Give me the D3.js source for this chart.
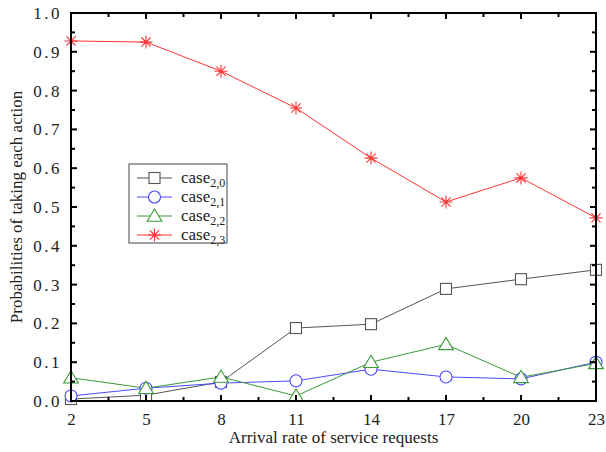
<!DOCTYPE html>
<html><head><meta charset="utf-8">
<script src="https://cdn.jsdelivr.net/npm/d3@7"></script>
<style>svg text, svg tspan{font-family:'Liberation Serif' !important;}</style>
</head><body style="margin:0"><svg id="c" width="606" height="452"></svg>
<script>
const xCats = [2,5,8,11,14,17,20,23];
const case20 = [0.005,0.015,0.049,0.188,0.198,0.289,0.314,0.338];
const case21 = [0.013,0.033,0.046,0.052,0.082,0.062,0.057,0.100];
const case22 = [0.060,0.033,0.062,0.013,0.100,0.146,0.061,0.097];
const case23 = [0.928,0.925,0.850,0.755,0.626,0.513,0.575,0.472];
const yTicks = [0,0.1,0.2,0.3,0.4,0.5,0.6,0.7,0.8,0.9,1.0];
const seriesNames = ["0","1","2","3"];
const seriesColors = ["#555555","#4a4aff","#3a9a3a","#ff3333"];
const seriesSymbols = ["square","circle","triangle","star"];

const svg = d3.select("#c");
const L=71,R=596,T=13,B=401;
const x = d3.scaleLinear().domain([2,23]).range([L,R]);
const y = d3.scaleLinear().domain([0,1]).range([B,T]);
const series = [case20,case21,case22,case23];

function txt(sel, size){
  return sel.style("font-family","Times New Roman").style("font-size",size+"px").attr("fill","#222");
}

function drawMarker(g, type, cx, cy, color){
  if(type==="square"){
    g.append("rect").attr("x",cx-5.5).attr("y",cy-5.5).attr("width",11).attr("height",11)
     .attr("fill","#fff").attr("stroke",color).attr("stroke-width",1.1);
  } else if(type==="circle"){
    g.append("circle").attr("cx",cx).attr("cy",cy).attr("r",6)
     .attr("fill","#fff").attr("stroke",color).attr("stroke-width",1.1);
  } else if(type==="triangle"){
    const s=7;
    g.append("path").attr("d",`M${cx},${cy-s}L${cx+s*1.05},${cy+s*0.75}L${cx-s*1.05},${cy+s*0.75}Z`)
     .attr("fill","#fff").attr("stroke",color).attr("stroke-width",1.1);
  } else {
    const s=6.5;
    let d="";
    for(let i=0;i<4;i++){const a=i*Math.PI/4; d+=`M${cx-s*Math.cos(a)},${cy-s*Math.sin(a)}L${cx+s*Math.cos(a)},${cy+s*Math.sin(a)}`;}
    g.append("path").attr("d",d).attr("stroke",color).attr("stroke-width",1.1).attr("fill","none");
  }
}

const line = d3.line().x((d,i)=>x(xCats[i])).y(d=>y(d));
series.forEach((s,k)=>{
  svg.append("path").datum(s).attr("d",line).attr("fill","none")
    .attr("stroke",seriesColors[k]).attr("stroke-width",1);
});
series.forEach((s,k)=>{
  const g=svg.append("g");
  s.forEach((v,i)=>drawMarker(g,seriesSymbols[k],x(xCats[i]),y(v),seriesColors[k]));
});

const ax = svg.append("g");
ax.append("rect").attr("x",L).attr("y",T).attr("width",R-L).attr("height",B-T)
  .attr("fill","none").attr("stroke","#000").attr("stroke-width",2);
d3.range(2,23.01,1.5).forEach(v=>{
  const len = xCats.includes(v)?6:4;
  ax.append("line").attr("x1",x(v)).attr("x2",x(v)).attr("y1",B).attr("y2",B-len).attr("stroke","#000").attr("stroke-width",2);
  ax.append("line").attr("x1",x(v)).attr("x2",x(v)).attr("y1",T).attr("y2",T+len).attr("stroke","#000").attr("stroke-width",2);
});
d3.range(0,1.001,0.05).forEach((v,i)=>{
  const len = i%2===0?6:4;
  ax.append("line").attr("x1",L).attr("x2",L+len).attr("y1",y(v)).attr("y2",y(v)).attr("stroke","#000").attr("stroke-width",2);
  ax.append("line").attr("x1",R).attr("x2",R-len).attr("y1",y(v)).attr("y2",y(v)).attr("stroke","#000").attr("stroke-width",2);
});

const gx = svg.append("g").attr("transform",`translate(0,${B})`)
  .call(d3.axisBottom(x).tickValues(xCats).tickSize(0).tickPadding(12).tickFormat(d3.format("d")));
gx.attr("font-family",null).attr("font-size",null);
gx.select(".domain").remove();
txt(gx.selectAll("text"),17);

const gy = svg.append("g").attr("transform",`translate(${L},0)`)
  .call(d3.axisLeft(y).tickValues(yTicks).tickSize(0).tickPadding(9).tickFormat(d3.format(".1f")));
gy.attr("font-family",null).attr("font-size",null);
gy.select(".domain").remove();
txt(gy.selectAll("text"),17).style("letter-spacing","2.5px");

txt(svg.append("text").attr("x",(L+R)/2).attr("y",443).attr("text-anchor","middle"),17)
  .text("Arrival rate of service requests");
txt(svg.append("text").attr("transform",`translate(22,${(T+B)/2}) rotate(-90)`).attr("text-anchor","middle"),17)
  .text("Probabilities of taking each action");

const lg = svg.append("g");
lg.append("rect").attr("x",129).attr("y",164).attr("width",98).attr("height",79)
  .attr("fill","#fff").attr("stroke","#444").attr("stroke-width",1);
seriesNames.forEach((n,k)=>{
  const yy = 178 + k*19;
  lg.append("line").attr("x1",137).attr("x2",172).attr("y1",yy).attr("y2",yy).attr("stroke",seriesColors[k]).attr("stroke-width",1);
  drawMarker(lg,seriesSymbols[k],154.5,yy,seriesColors[k]);
  const t = txt(lg.append("text").attr("x",181).attr("y",yy+5),17);
  t.append("tspan").text("case");
  t.append("tspan").style("font-size","12px").attr("dy",4).text("2,"+n);
});
</script></body></html>
